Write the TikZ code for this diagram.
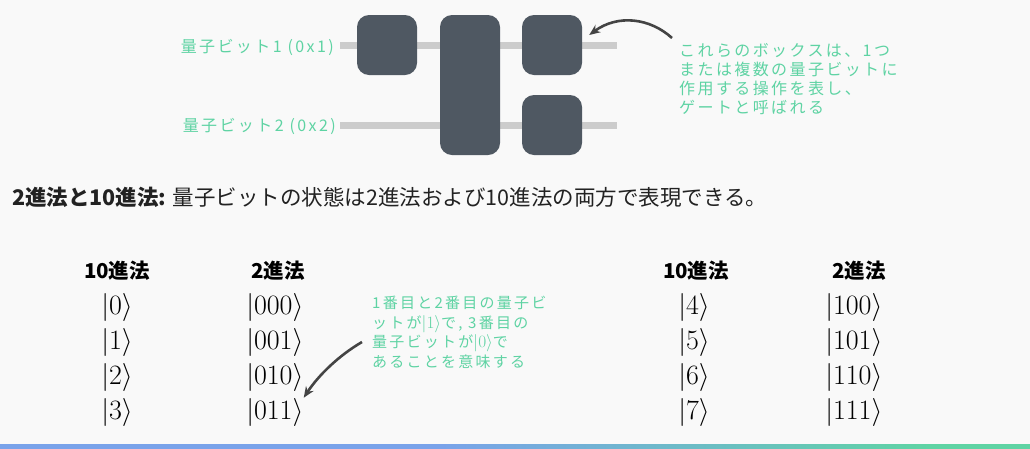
\documentclass[tikz,border=0pt]{standalone}
\usepackage{fontspec}
\setmainfont{Noto Sans CJK JP}
\newfontfamily\annotfont[LetterSpace=15]{Noto Sans CJK JP}
\usetikzlibrary{arrows.meta}
\definecolor{bgc}{RGB}{249,249,249}
\definecolor{gatec}{RGB}{79,88,98}
\definecolor{wirec}{RGB}{204,204,204}
\definecolor{annc}{RGB}{94,211,163}
\definecolor{arrc}{RGB}{68,68,68}
\definecolor{txtc}{RGB}{34,34,34}
\definecolor{barblue}{RGB}{122,163,234}
\definecolor{bargreen}{RGB}{95,212,164}
\pgfdeclarehorizontalshading{barshade}{100bp}{color(0bp)=(barblue); color(46.36bp)=(barblue); color(70.15bp)=(bargreen); color(100bp)=(bargreen)}
\begin{document}
\begin{tikzpicture}[x=1pt,y=-1pt,
  gate/.style={fill=gatec, rounded corners=12pt, inner sep=0pt, minimum width=60pt},
  wire/.style={draw=wirec, line width=7pt},
  lbl/.style={text=annc, font=\annotfont\fontsize{16}{19}\selectfont, inner sep=0pt},
  annot/.style={text=annc, font=\annotfont\fontsize{16}{19}\selectfont, inner sep=0pt, align=left, anchor=north west},
  annotb/.style={text=annc, font=\annotfont\fontsize{15}{19.5}\selectfont, inner sep=0pt, align=left, anchor=north west},
  arr/.style={draw=arrc, line width=2.6pt, -{Stealth[length=11pt,width=9pt]}},
  head/.style={text=txtc, font=\fontsize{21.5}{24}\selectfont, inner sep=0pt, anchor=west},
  colhead/.style={text=black, font=\bfseries\fontsize{20.5}{23}\selectfont, inner sep=0pt},
  ket/.style={text=black, font=\fontsize{20.74}{24}\selectfont, scale=1.35, inner sep=0pt, anchor=west}
]
\fill[bgc] (0,0) rectangle (1030,448);
\useasboundingbox (0,0) rectangle (1030,448);
% bottom gradient bar
\shade[shading=barshade] (0,444) rectangle (1030,448);

% wires
\coordinate (w1a) at (340,45);
\coordinate (w1b) at (617,45);
\coordinate (w2a) at (340,125);
\coordinate (w2b) at (617,125);
\draw[wire] (w1a) -- (w1b);
\draw[wire] (w2a) -- (w2b);

% gates
\node[gate, minimum height=60pt] (g1) at (387,45) {};
\node[gate, minimum height=140pt] (g2) at (470,85) {};
\node[gate, minimum height=60pt] (g3) at (552,45) {};
\node[gate, minimum height=60pt] (g4) at (552,125) {};

% wire labels
\node[lbl, anchor=east] (l1) at (334,47) {量子ビット1 (0x1)};
\node[lbl, anchor=east] (l2) at (336,126) {量子ビット2 (0x2)};

% annotation 1
\node[annot] (ann1) at (679,43) {これらのボックスは、1つ\\または複数の量子ビットに\\作用する操作を表し、\\ゲートと呼ばれる};
\draw[arr] ([xshift=-7pt,yshift=5pt]ann1.north west) .. controls (650,18) and (618,14) .. ([xshift=7pt,yshift=10pt]g3.east);

% heading
\node[head] (hd) at (12,197) {\textbf{2進法と10進法:} 量子ビットの状態は2進法および10進法の両方で表現できる。};

% left table
\node[colhead] (h1) at (117,271) {10進法};
\node[colhead] (h2) at (278,271) {2進法};
\node[ket] (k0) at (101,307) {$|0\rangle$};
\node[ket] (k1) at (101,342) {$|1\rangle$};
\node[ket] (k2) at (101,377) {$|2\rangle$};
\node[ket] (k3) at (101,412) {$|3\rangle$};
\node[ket] (b0) at (246,307) {$|000\rangle$};
\node[ket] (b1) at (246,342) {$|001\rangle$};
\node[ket] (b2) at (246,377) {$|010\rangle$};
\node[ket] (b3) at (246,412) {$|011\rangle$};

% right table
\node[colhead] (h3) at (696,271) {10進法};
\node[colhead] (h4) at (859,271) {2進法};
\node[ket] (k4) at (678,307) {$|4\rangle$};
\node[ket] (k5) at (678,342) {$|5\rangle$};
\node[ket] (k6) at (678,377) {$|6\rangle$};
\node[ket] (k7) at (678,412) {$|7\rangle$};
\node[ket] (b4) at (825,307) {$|100\rangle$};
\node[ket] (b5) at (825,342) {$|101\rangle$};
\node[ket] (b6) at (825,377) {$|110\rangle$};
\node[ket] (b7) at (825,412) {$|111\rangle$};

% annotation 2
\node[annotb] (ann2) at (372,296) {1番目と2番目の量子ビ\\ットが{\fontsize{17.28}{19}\selectfont$|1\rangle$}で, 3番目の\\量子ビットが{\fontsize{17.28}{19}\selectfont$|0\rangle$}で\\あることを意味する};
\draw[arr] ([xshift=-10pt,yshift=-46pt]ann2.north west) .. controls (338,356) and (318,376) .. (b3.north east);
\end{tikzpicture}
\end{document}
